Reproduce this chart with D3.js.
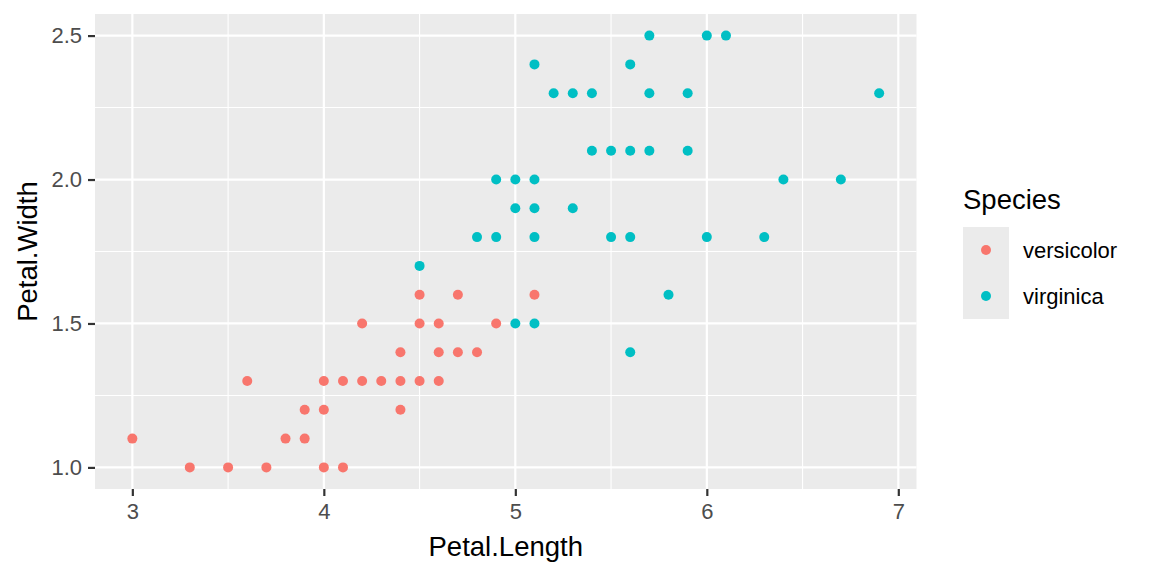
<!DOCTYPE html>
<html>
<head>
<meta charset="utf-8">
<script src="https://cdn.jsdelivr.net/npm/d3@7"></script>
<style>
  body { margin: 0; background: #fff; }
  svg text { font-family: "Liberation Sans", Arial, sans-serif; }
</style>
</head>
<body>
<svg id="chart" width="1152" height="576"></svg>
<script>

/*
 * DATA
 */

var species = ['versicolor', 'virginica'];
var speciesColors = ['#F8766D', '#00BFC4'];

var versicolorLength = [3.0, 3.3, 3.5, 3.6, 3.7, 3.8, 3.9, 3.9, 4.0, 4.0, 4.0, 4.1, 4.1, 4.2, 4.2,
                        4.3, 4.4, 4.4, 4.4, 4.5, 4.5, 4.5, 4.6, 4.6, 4.6, 4.7, 4.7, 4.8, 4.9, 5.1];
var versicolorWidth  = [1.1, 1.0, 1.0, 1.3, 1.0, 1.1, 1.1, 1.2, 1.0, 1.2, 1.3, 1.0, 1.3, 1.3, 1.5,
                        1.3, 1.2, 1.3, 1.4, 1.3, 1.5, 1.6, 1.3, 1.4, 1.5, 1.4, 1.6, 1.4, 1.5, 1.6];

var virginicaLength = [4.5, 4.8, 4.9, 4.9, 5.0, 5.0, 5.0, 5.1, 5.1, 5.1, 5.1, 5.1, 5.2, 5.3, 5.3,
                       5.4, 5.4, 5.5, 5.5, 5.6, 5.6, 5.6, 5.6, 5.7, 5.7, 5.7, 5.8, 5.9, 5.9, 6.0,
                       6.0, 6.1, 6.3, 6.4, 6.7, 6.9];
var virginicaWidth  = [1.7, 1.8, 1.8, 2.0, 1.5, 1.9, 2.0, 1.5, 1.8, 1.9, 2.0, 2.4, 2.3, 1.9, 2.3,
                       2.1, 2.3, 1.8, 2.1, 1.4, 1.8, 2.1, 2.4, 2.1, 2.3, 2.5, 1.6, 2.1, 2.3, 1.8,
                       2.5, 2.5, 1.8, 2.0, 2.0, 2.3];

var xTicks = [3, 4, 5, 6, 7];
var xMinor = [3.5, 4.5, 5.5, 6.5];
var yTicks = [1.0, 1.5, 2.0, 2.5];
var yMinor = [1.25, 1.75, 2.25];

var points = [];
versicolorLength.forEach(function (d, i) {
    points.push({ species: 'versicolor', length: d, width: versicolorWidth[i] });
});
virginicaLength.forEach(function (d, i) {
    points.push({ species: 'virginica', length: d, width: virginicaWidth[i] });
});

/*
 * SCALES
 */

var panel = { left: 95, right: 916.5, top: 14, bottom: 489 };

// ggplot style 5% expansion around the data range
var xExt = [3.0, 6.9], yExt = [1.0, 2.5];
var xPad = (xExt[1] - xExt[0]) * 0.05, yPad = (yExt[1] - yExt[0]) * 0.05;

var x = d3.scaleLinear().domain([xExt[0] - xPad, xExt[1] + xPad]).range([panel.left, panel.right]);
var y = d3.scaleLinear().domain([yExt[0] - yPad, yExt[1] + yPad]).range([panel.bottom, panel.top]);
var color = d3.scaleOrdinal().domain(species).range(speciesColors);

var svg = d3.select('#chart');

/*
 * PANEL + GRID
 */

svg.append('rect')
    .attr('x', panel.left).attr('y', panel.top)
    .attr('width', panel.right - panel.left).attr('height', panel.bottom - panel.top)
    .attr('fill', '#EBEBEB');

var grid = svg.append('g');

grid.selectAll('.xminor').data(xMinor).enter().append('line')
    .attr('x1', x).attr('x2', x).attr('y1', panel.top).attr('y2', panel.bottom)
    .attr('stroke', '#fff').attr('stroke-width', 1.1);
grid.selectAll('.yminor').data(yMinor).enter().append('line')
    .attr('y1', y).attr('y2', y).attr('x1', panel.left).attr('x2', panel.right)
    .attr('stroke', '#fff').attr('stroke-width', 1.1);
grid.selectAll('.xmajor').data(xTicks).enter().append('line')
    .attr('x1', x).attr('x2', x).attr('y1', panel.top).attr('y2', panel.bottom)
    .attr('stroke', '#fff').attr('stroke-width', 2.2);
grid.selectAll('.ymajor').data(yTicks).enter().append('line')
    .attr('y1', y).attr('y2', y).attr('x1', panel.left).attr('x2', panel.right)
    .attr('stroke', '#fff').attr('stroke-width', 2.2);

/*
 * POINTS
 */

svg.append('g').selectAll('circle').data(points).enter().append('circle')
    .attr('cx', function (d) { return x(d.length); })
    .attr('cy', function (d) { return y(d.width); })
    .attr('r', 5)
    .attr('fill', function (d) { return color(d.species); });

/*
 * AXES
 */

var xAxis = d3.axisBottom(x).tickValues(xTicks).tickSize(7).tickPadding(6)
    .tickFormat(d3.format('d'));
var xg = svg.append('g').attr('transform', 'translate(0,' + panel.bottom + ')').call(xAxis);

var yAxis = d3.axisLeft(y).tickValues(yTicks).tickSize(7).tickPadding(6)
    .tickFormat(d3.format('.1f'));
var yg = svg.append('g').attr('transform', 'translate(' + panel.left + ',0)').call(yAxis);

[xg, yg].forEach(function (g) {
    g.select('.domain').remove();
    g.selectAll('.tick line').attr('stroke', '#333333').attr('stroke-width', 2.2);
    g.selectAll('.tick text').attr('fill', '#4D4D4D')
        .style('font-size', '22px').style('font-family', '"Liberation Sans", Arial, sans-serif');
});
xg.selectAll('.tick text').attr('dy', '0.75em');

svg.append('text')
    .attr('x', (panel.left + panel.right) / 2).attr('y', 556)
    .attr('text-anchor', 'middle')
    .style('font-size', '27.5px')
    .text('Petal.Length');

svg.append('text')
    .attr('transform', 'translate(37,' + (panel.top + panel.bottom) / 2 + ') rotate(-90)')
    .attr('text-anchor', 'middle')
    .style('font-size', '27.5px')
    .text('Petal.Width');

/*
 * LEGEND
 */

var legend = svg.append('g').attr('transform', 'translate(963,0)');

legend.append('text')
    .attr('x', 0).attr('y', 209)
    .style('font-size', '27.5px')
    .text('Species');

var keys = legend.selectAll('.key').data(species).enter().append('g')
    .attr('transform', function (d, i) { return 'translate(0,' + (227 + i * 46) + ')'; });

keys.append('rect')
    .attr('width', 46).attr('height', 46)
    .attr('fill', '#EBEBEB');

keys.append('circle')
    .attr('cx', 23).attr('cy', 23).attr('r', 5)
    .attr('fill', function (d) { return color(d); });

keys.append('text')
    .attr('x', 60).attr('y', 23).attr('dy', '0.35em')
    .style('font-size', '22px')
    .text(function (d) { return d; });

</script>
</body>
</html>
